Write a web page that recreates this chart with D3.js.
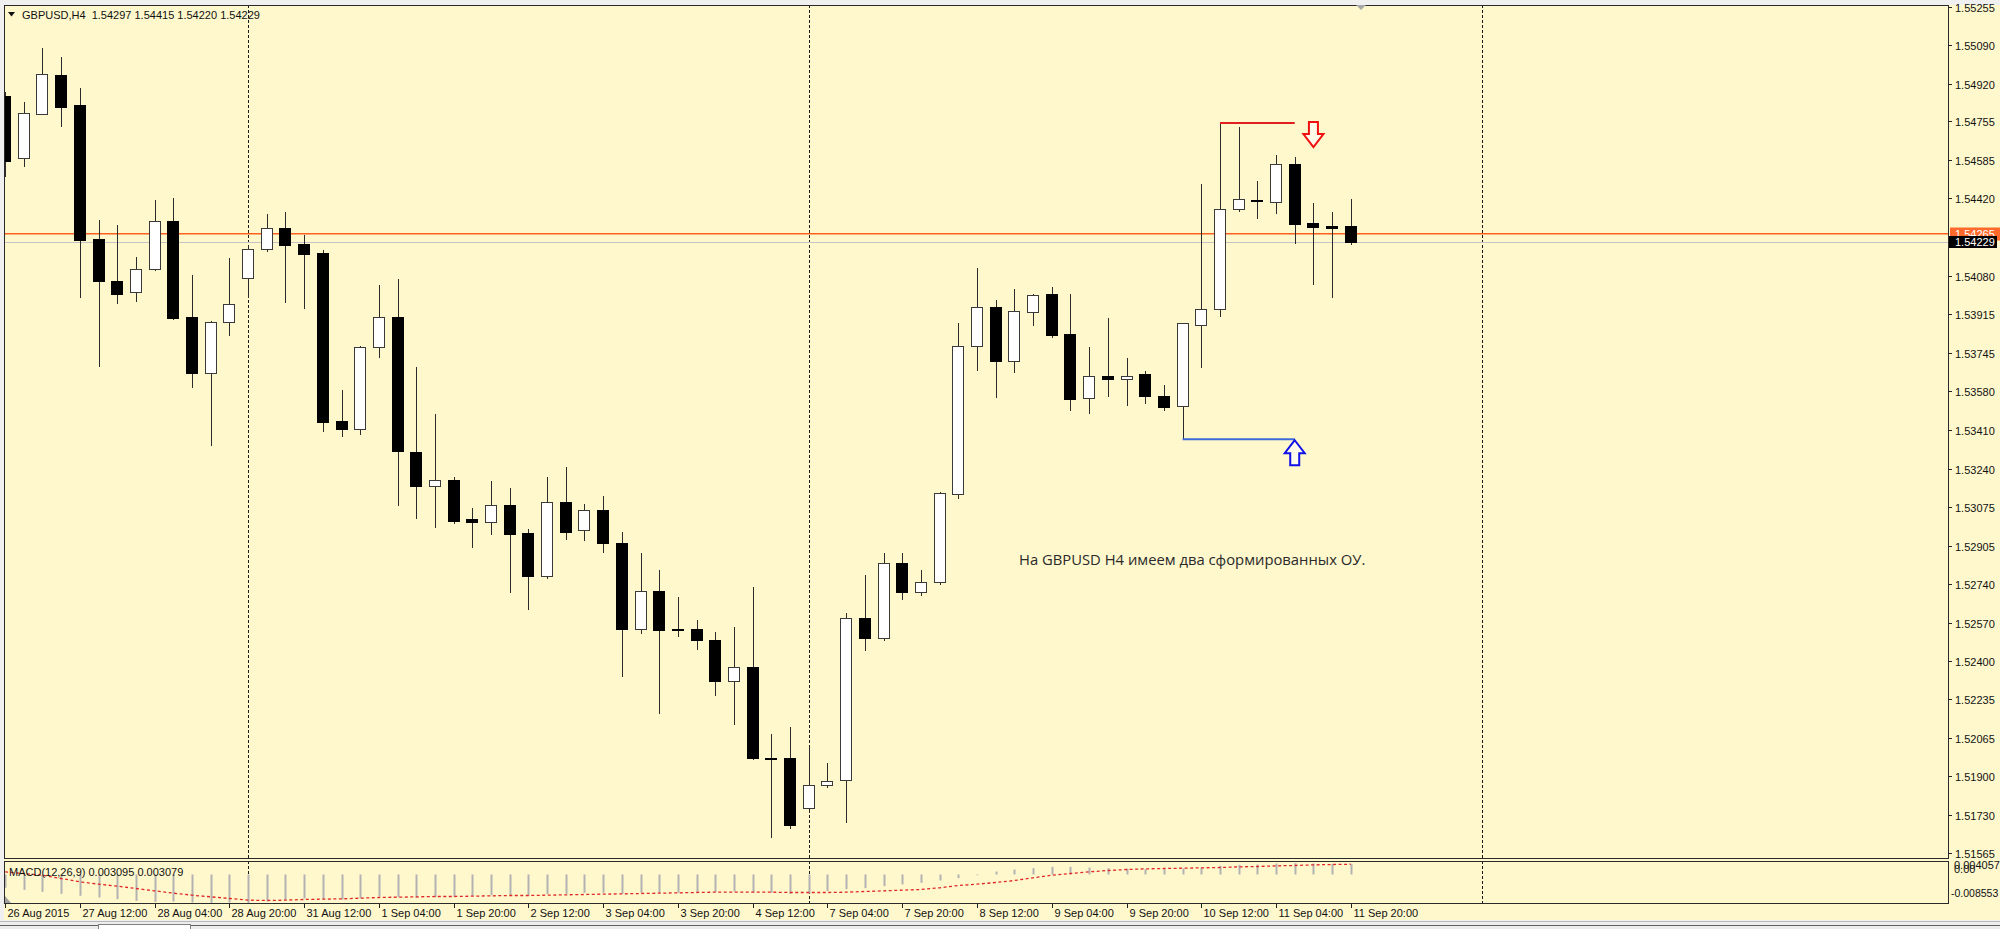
<!DOCTYPE html>
<html><head><meta charset="utf-8">
<script src="https://cdn.jsdelivr.net/npm/d3@7"></script>
<style>html,body{margin:0;padding:0;background:#fff;} svg{display:block}</style>
</head><body>
<svg id="c" width="2000" height="929"></svg>
<script>
// ---------------- DATA ----------------
const headerText = "GBPUSD,H4  1.54297 1.54415 1.54220 1.54229";
const macdText = "MACD(12,26,9) 0.003095 0.003079";
const annotationText = "На GBPUSD H4 имеем два сформированных ОУ.";

const opens = [1.54866,1.54594,1.54789,1.54959,1.54825,1.54241,1.54058,1.54010,1.54111,1.54321,
  1.53901,1.53659,1.53882,1.54071,1.54197,1.54291,1.54220,1.54180,1.53447,1.53413,
  1.53770,1.53903,1.53315,1.53165,1.53191,1.53020,1.53008,1.53081,1.52959,1.52773,
  1.53096,1.52972,1.53059,1.52917,1.52543,1.52708,1.52541,1.52541,1.52495,1.52315,
  1.52377,1.51979,1.51981,1.51760,1.51863,1.51883,1.52590,1.52504,1.52830,1.52702,
  1.52747,1.53130,1.53775,1.53944,1.53710,1.53923,1.54001,1.53826,1.53547,1.53646,
  1.53630,1.53654,1.53557,1.53513,1.53867,1.53938,1.54372,1.54411,1.54402,1.54570,
  1.54311,1.54298,1.54297];
const highs = [1.54884,1.54838,1.55076,1.55037,1.54902,1.54324,1.54303,1.54165,1.54414,1.54420,
  1.54084,1.53885,1.54159,1.54215,1.54350,1.54359,1.54260,1.54194,1.53584,1.53775,
  1.54042,1.54067,1.53685,1.53478,1.53203,1.53071,1.53187,1.53157,1.52978,1.53205,
  1.53248,1.53087,1.53122,1.52963,1.52872,1.52800,1.52683,1.52581,1.52527,1.52552,
  1.52725,1.52084,1.52115,1.52027,1.51956,1.52613,1.52779,1.52875,1.52871,1.52801,
  1.53139,1.53878,1.54114,1.53976,1.54025,1.54003,1.54033,1.54001,1.53772,1.53899,
  1.53722,1.53665,1.53604,1.53878,1.54481,1.54754,1.54729,1.54495,1.54608,1.54601,
  1.54398,1.54359,1.54415];
const lows = [1.54517,1.54562,1.54785,1.54736,1.53988,1.53689,1.53962,1.53973,1.54108,1.53895,
  1.53596,1.53343,1.53825,1.53988,1.54189,1.53968,1.53943,1.53404,1.53383,1.53392,
  1.53729,1.53082,1.53026,1.52985,1.53003,1.52898,1.52956,1.52704,1.52630,1.52763,
  1.52936,1.52930,1.52879,1.52338,1.52523,1.52177,1.52513,1.52456,1.52253,1.52126,
  1.51976,1.51636,1.51674,1.51745,1.51853,1.51699,1.52452,1.52492,1.52672,1.52689,
  1.52736,1.53113,1.53673,1.53552,1.53662,1.53865,1.53815,1.53496,1.53484,1.53556,
  1.53520,1.53526,1.53496,1.53369,1.53683,1.53906,1.54364,1.54334,1.54354,1.54226,
  1.54045,1.53988,1.54220];
const closes = [1.54584,1.54790,1.54963,1.54818,1.54238,1.54060,1.54004,1.54113,1.54321,1.53898,
  1.53659,1.53879,1.53960,1.54199,1.54290,1.54217,1.54177,1.53444,1.53413,1.53773,
  1.53903,1.53317,1.53165,1.53191,1.53011,1.53007,1.53081,1.52956,1.52773,1.53096,
  1.52966,1.53059,1.52915,1.52543,1.52708,1.52537,1.52538,1.52494,1.52315,1.52377,
  1.51979,1.51974,1.51689,1.51863,1.51879,1.52591,1.52502,1.52830,1.52702,1.52747,
  1.53136,1.53775,1.53944,1.53710,1.53928,1.53999,1.53825,1.53546,1.53646,1.53630,
  1.53646,1.53557,1.53510,1.53874,1.53937,1.54372,1.54418,1.54409,1.54570,1.54309,
  1.54296,1.54289,1.54229];

const macdMain = [-0.0040,-0.0046,-0.0052,-0.0058,-0.0064,-0.0069,-0.0074,-0.0079,-0.0082,-0.0081,
  -0.0084,-0.0085,-0.0084,-0.008553,-0.0080,-0.0076,-0.0072,-0.0074,-0.0075,-0.0071,
  -0.0066,-0.0068,-0.0070,-0.0068,-0.0067,-0.0065,-0.0062,-0.0062,-0.0064,-0.0059,
  -0.0058,-0.0055,-0.0055,-0.0058,-0.0055,-0.0056,-0.0055,-0.0054,-0.0053,-0.0051,
  -0.0054,-0.0055,-0.0058,-0.0057,-0.0050,-0.0044,-0.0041,-0.0035,-0.0030,-0.0025,
  -0.0018,-0.0011,-0.0002,0.0009,0.0015,0.0019,0.0023,0.0023,0.0021,0.0019,
  0.0017,0.0016,0.0015,0.0018,0.0021,0.0026,0.0029,0.0030,0.0033,0.0034,
  0.0033,0.0032,0.003095];
const macdSignal = [0.0008,0.0003,-0.0002,-0.0012,-0.0022,-0.0029,-0.0035,-0.0042,-0.0049,-0.0056,
  -0.0062,-0.0067,-0.0072,-0.0077,-0.0078,-0.0077,-0.0075,-0.0074,-0.0073,-0.0071,
  -0.0069,-0.0068,-0.0067,-0.0066,-0.0066,-0.0065,-0.0064,-0.0063,-0.0063,-0.0062,
  -0.0061,-0.0060,-0.0059,-0.0058,-0.0057,-0.0056,-0.0055,-0.0054,-0.0053,-0.0053,
  -0.0053,-0.0053,-0.0054,-0.0054,-0.0054,-0.0053,-0.0051,-0.0049,-0.0047,-0.0045,
  -0.0040,-0.0033,-0.0029,-0.0024,-0.0018,-0.0010,-0.0002,0.0003,0.0008,0.0012,
  0.0015,0.0017,0.0018,0.0019,0.0020,0.0021,0.0023,0.0024,0.0026,0.0027,
  0.0029,0.0030,0.003079];

const priceTicks = [1.55255,1.55090,1.54920,1.54755,1.54585,1.54420,1.54080,1.53915,1.53745,1.53580,
  1.53410,1.53240,1.53075,1.52905,1.52740,1.52570,1.52400,1.52235,1.52065,1.51900,1.51730,1.51565];
const priceTickLabels = priceTicks.map(v => v.toFixed(5));

const dateTickBars = [0,4,8,12,16,20,24,28,32,36,40,44,48,52,56,60,64,68,72];
const dateTickLabels = ["26 Aug 2015","27 Aug 12:00","28 Aug 04:00","28 Aug 20:00","31 Aug 12:00",
  "1 Sep 04:00","1 Sep 20:00","2 Sep 12:00","3 Sep 04:00","3 Sep 20:00","4 Sep 12:00",
  "7 Sep 04:00","7 Sep 20:00","8 Sep 12:00","9 Sep 04:00","9 Sep 20:00","10 Sep 12:00",
  "11 Sep 04:00","11 Sep 20:00"];
const separatorBars = [13, 43, 79];

const askPrice = 1.54265, bidPrice = 1.54229;
const macdMax = 0.004057, macdMin = -0.008553;
const macdAxisLabels = ["0.004057","0.00","-0.008553"];

const resistanceLine = {fromBar: 65, toBar: 69, price: 1.54748};
const supportLine = {fromBar: 63, toBar: 69, price: 1.53369};
const downArrow = {bar: 70, price: 1.54752};
const upArrow = {bar: 69, price: 1.53369};

// ---------------- LAYOUT ----------------
const BG = "#FFF8CD";
const L = 4, R = 1948, T = 5, MB = 858, MT = 861, MBOT = 903;
const svg = d3.select("#c");
const FONT = "'Liberation Sans', Arial, sans-serif";

const x = d3.scaleLinear().domain([0, 72]).range([5.1, 1350.8]);
const y = d3.scaleLinear().domain([1.51565, 1.55255]).range([853.0, 6.7]);
const ym = d3.scaleLinear().domain([macdMin, macdMax]).range([MBOT, MT]);

// backgrounds
svg.append("rect").attr("width",2000).attr("height",929).attr("fill","#F0F0F0");
svg.append("rect").attr("x",L).attr("y",T).attr("width",2000-L).attr("height",920-T).attr("fill",BG);

const defs = svg.append("defs");
defs.append("clipPath").attr("id","mainClip").append("rect").attr("x",L+1).attr("y",T+1).attr("width",R-L-1).attr("height",MB-T-1);
defs.append("clipPath").attr("id","macdClip").append("rect").attr("x",L+1).attr("y",MT+1).attr("width",R-L-1).attr("height",MBOT-MT-1);

const px = v => Math.round(v) + 0.5;

// separators (behind everything)
separatorBars.forEach(b => {
  const xx = px(x(b));
  [[T, MB],[MT, MBOT]].forEach(([a,bb]) => {
    svg.append("line").attr("x1",xx).attr("x2",xx).attr("y1",a).attr("y2",bb)
      .attr("stroke","#1a1a1a").attr("stroke-dasharray","3,2").attr("stroke-width",1);
  });
});

const main = svg.append("g").attr("clip-path","url(#mainClip)");
const macdG = svg.append("g").attr("clip-path","url(#macdClip)");

// ask / bid lines
main.append("line").attr("x1",L).attr("x2",R).attr("y1",px(y(bidPrice))).attr("y2",px(y(bidPrice)))
  .attr("stroke","#C4C4C4").attr("stroke-width",1);
main.append("line").attr("x1",L).attr("x2",R).attr("y1",y(askPrice)).attr("y2",y(askPrice))
  .attr("stroke","#FF5F1F").attr("stroke-width",1.6);

// candles
const bars = d3.range(opens.length).map(i => ({i, o:opens[i], h:highs[i], l:lows[i], c:closes[i]}));
const cg = main.append("g").attr("shape-rendering","crispEdges");
cg.selectAll("line.w").data(bars).join("line").attr("class","w")
  .attr("x1", d => px(x(d.i))).attr("x2", d => px(x(d.i)))
  .attr("y1", d => Math.round(y(d.h))).attr("y2", d => Math.round(y(d.l)) + 1)
  .attr("stroke","#2b2b2b").attr("stroke-width",1);
cg.selectAll("rect.b").data(bars).join("rect").attr("class","b")
  .attr("x", d => Math.round(x(d.i)) - 5.5)
  .attr("width", 11)
  .attr("y", d => Math.round(y(Math.max(d.o,d.c))) + 0.5)
  .attr("height", d => Math.max(1, Math.round(y(Math.min(d.o,d.c))) - Math.round(y(Math.max(d.o,d.c)))))
  .attr("fill", d => d.c > d.o ? "#FFFFFF" : "#000000")
  .attr("stroke", d => d.c > d.o ? "#3a3a3a" : "#000000")
  .attr("stroke-width",1);

// annotation lines
main.append("line").attr("x1",x(resistanceLine.fromBar)).attr("x2",x(resistanceLine.toBar))
  .attr("y1",y(resistanceLine.price)).attr("y2",y(resistanceLine.price))
  .attr("stroke","#E01E1E").attr("stroke-width",2);
main.append("line").attr("x1",x(supportLine.fromBar)).attr("x2",x(supportLine.toBar))
  .attr("y1",y(supportLine.price)).attr("y2",y(supportLine.price))
  .attr("stroke","#3C6AD6").attr("stroke-width",2);

// arrows
function arrowPath(cx, tip, dir) { // dir 1 = down (tip at bottom), -1 = up (tip at top)
  const sw = 4.5, hw = 10, shaft = 12, head = 13;
  if (dir === 1) {
    const y0 = tip - head - shaft, y1 = tip - head;
    return `M${cx-sw},${y0} L${cx+sw},${y0} L${cx+sw},${y1} L${cx+hw},${y1} L${cx},${tip} L${cx-hw},${y1} L${cx-sw},${y1} Z`;
  } else {
    const y1 = tip + head, y2 = tip + head + shaft;
    return `M${cx},${tip} L${cx+hw},${y1} L${cx+sw},${y1} L${cx+sw},${y2} L${cx-sw},${y2} L${cx-sw},${y1} L${cx-hw},${y1} Z`;
  }
}
main.append("path").attr("d", arrowPath(x(downArrow.bar), y(downArrow.price) + 25, 1))
  .attr("fill","#FFFBEA").attr("stroke","#F01010").attr("stroke-width",2);
main.append("path").attr("d", arrowPath(x(upArrow.bar), y(upArrow.price) + 1, -1))
  .attr("fill","#FFFBEA").attr("stroke","#1010E8").attr("stroke-width",2);

// annotation text
main.append("text").attr("x",1019).attr("y",565).text(annotationText)
  .attr("font-family","'Open Sans', 'Noto Sans', sans-serif").attr("font-size",14.8).attr("fill","#2a2a2a");

// MACD
const z0 = ym(0);
macdG.selectAll("line.h").data(macdMain).join("line").attr("class","h")
  .attr("x1",(d,i)=>px(x(i))).attr("x2",(d,i)=>px(x(i)))
  .attr("y1", z0).attr("y2", d => ym(d))
  .attr("stroke","#B2B2B2").attr("stroke-width",2);
macdG.append("path").datum(macdSignal)
  .attr("d", d3.line().x((d,i)=>x(i)).y(d=>ym(d)))
  .attr("fill","none").attr("stroke","#E02828").attr("stroke-width",1.3).attr("stroke-dasharray","3,2.5");
macdG.append("path").attr("d",`M${L+1},${MBOT-7} L${L+7},${MBOT} L${L+1},${MBOT} Z`).attr("fill","#A0A0A0");
svg.append("text").attr("x",9).attr("y",876).text(macdText)
  .attr("font-family",FONT).attr("font-size",11).attr("fill","#111");

// frames
const frame = svg.append("g").attr("fill","none").attr("stroke","#2a2a2a").attr("shape-rendering","crispEdges");
frame.append("rect").attr("x",L+0.5).attr("y",T+0.5).attr("width",R-L).attr("height",MB-T);
frame.append("rect").attr("x",L+0.5).attr("y",MT+0.5).attr("width",R-L).attr("height",MBOT-MT);

// header
svg.append("path").attr("d","M8,12 L15,12 L11.5,16.5 Z").attr("fill","#111");
svg.append("text").attr("x",22).attr("y",19).text(headerText)
  .attr("font-family",FONT).attr("font-size",11).attr("fill","#111")
  .style("white-space","pre");

// chart-shift marker
svg.append("path").attr("d","M1356,5 L1366,5 L1361,10 Z").attr("fill","#A8A8A8");

// price axis
const pa = svg.append("g");
priceTicks.forEach((v,k) => {
  const yy = px(y(v));
  pa.append("line").attr("x1",R).attr("x2",R+4).attr("y1",yy).attr("y2",yy).attr("stroke","#222").attr("shape-rendering","crispEdges");
  pa.append("text").attr("x",R+7).attr("y",yy+4).text(priceTickLabels[k])
    .attr("font-family",FONT).attr("font-size",11).attr("fill","#111");
});
// ask / bid boxes
const ya = y(askPrice), yb = y(bidPrice);
pa.append("rect").attr("x",R+2).attr("y",Math.round(ya)-6.5).attr("width",52).attr("height",13).attr("fill","#FF6A2C");
pa.append("text").attr("x",R+7).attr("y",Math.round(ya)+4).text(askPrice.toFixed(5))
  .attr("font-family",FONT).attr("font-size",11).attr("fill","#fff");
pa.append("rect").attr("x",R+1).attr("y",Math.round(yb)-6).attr("width",48).attr("height",12).attr("fill","#000");
pa.append("text").attr("x",R+7).attr("y",Math.round(yb)+4).text(bidPrice.toFixed(5))
  .attr("font-family",FONT).attr("font-size",11).attr("fill","#fff");

// MACD axis labels (top two overlap in the original terminal too)
[[macdAxisLabels[0], 869, R+6, 11],[macdAxisLabels[1], 873, R+6, 11],[macdAxisLabels[2], 897, R+3, 10.5]].forEach(([t,yy,xx,fs]) => {
  pa.append("text").attr("x",xx).attr("y",yy).text(t).attr("font-family",FONT).attr("font-size",fs).attr("fill","#111");
});

// date axis
const da = svg.append("g");
dateTickBars.forEach((b,k) => {
  const xx = px(x(b));
  da.append("line").attr("x1",xx).attr("x2",xx).attr("y1",MBOT+1).attr("y2",MBOT+5).attr("stroke","#222").attr("shape-rendering","crispEdges");
  da.append("text").attr("x",xx+2).attr("y",917).text(dateTickLabels[k])
    .attr("font-family",FONT).attr("font-size",11).attr("fill","#111");
});

// bottom tab bar
svg.append("rect").attr("x",0).attr("y",921).attr("width",2000).attr("height",8).attr("fill","#EDEDED");
svg.append("line").attr("x1",0).attr("x2",2000).attr("y1",921.5).attr("y2",921.5).attr("stroke","#B8B8B8");
svg.append("line").attr("x1",0).attr("x2",2000).attr("y1",925.5).attr("y2",925.5).attr("stroke","#606060");
svg.append("rect").attr("x",98.5).attr("y",924.5).attr("width",92).attr("height",5).attr("fill","#FFFFFF").attr("stroke","#808080");
</script>
</body></html>
